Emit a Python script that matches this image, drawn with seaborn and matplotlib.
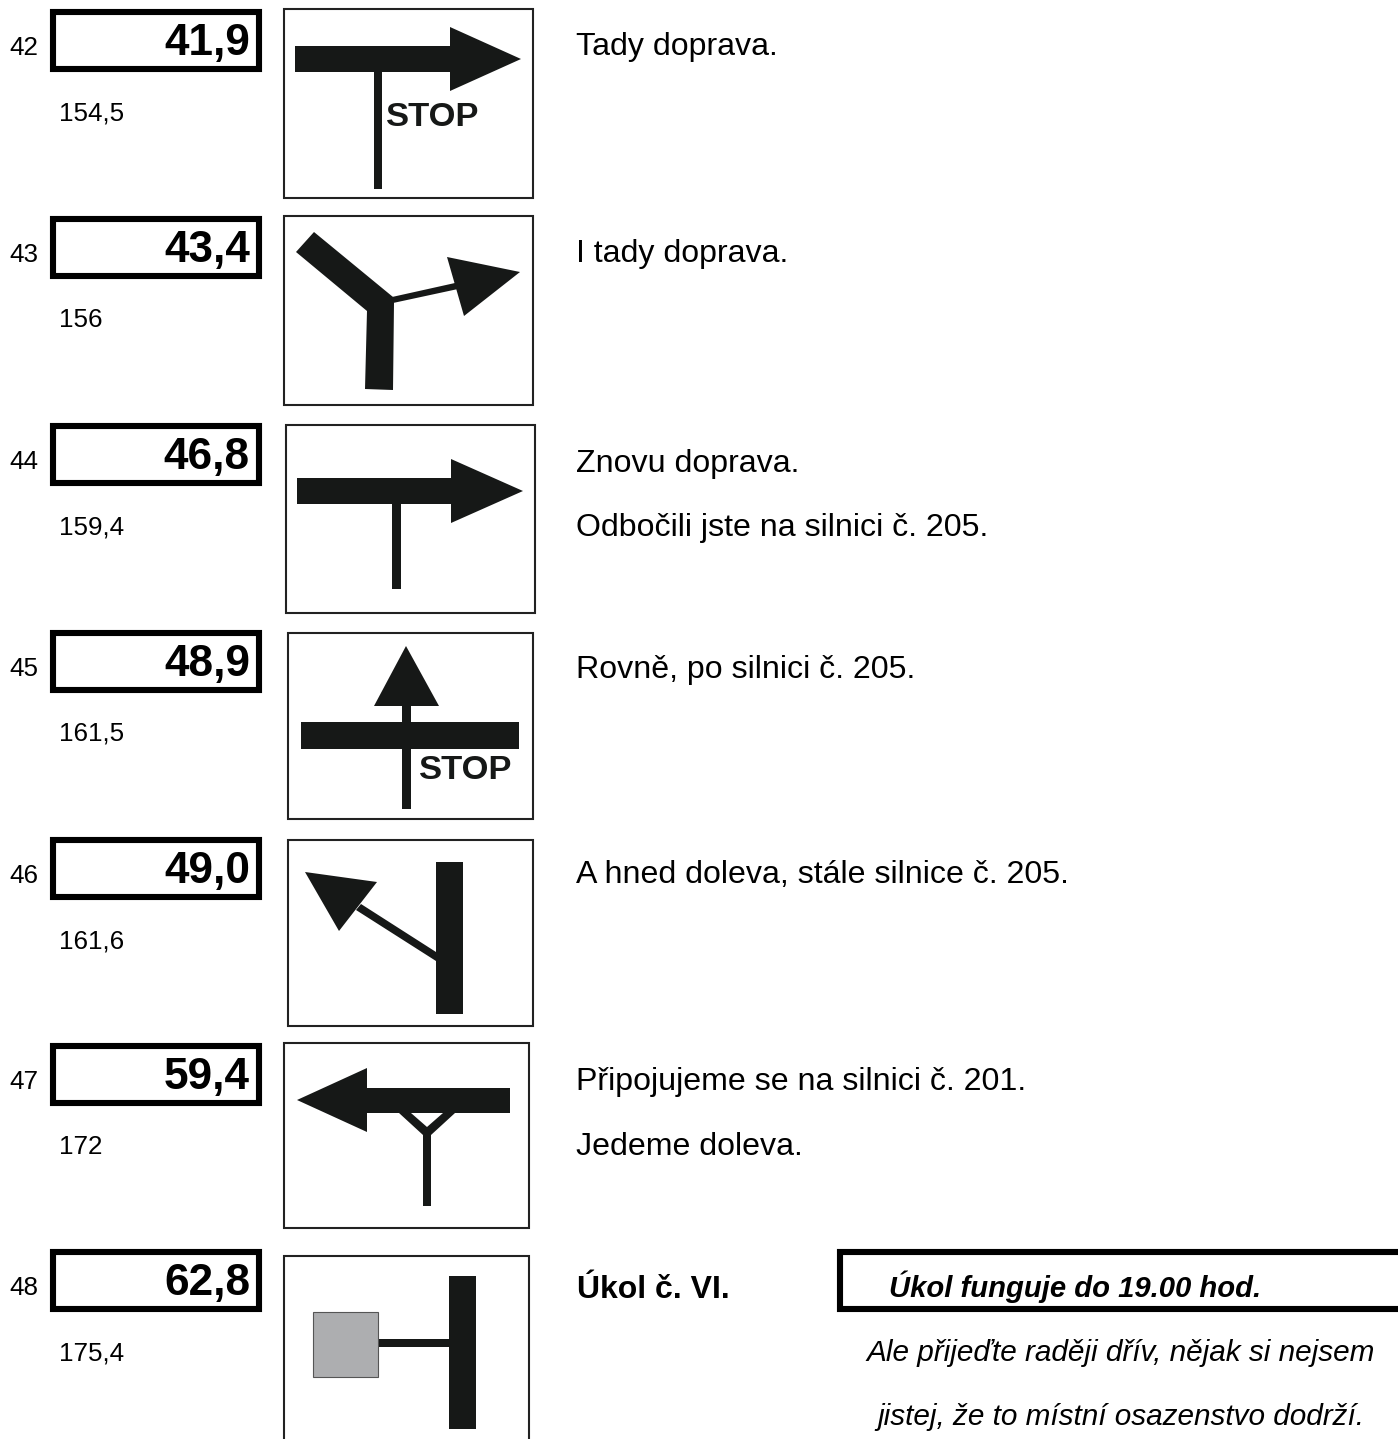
import matplotlib.pyplot as plt
import seaborn as sns
from matplotlib.patches import Polygon, Rectangle

# road book rows
stops = ["42", "43", "44", "45", "46", "47", "48"]
trip_km = ["41,9", "43,4", "46,8", "48,9", "49,0", "59,4", "62,8"]
total_km = ["154,5", "156", "159,4", "161,5", "161,6", "172", "175,4"]

notes = ["Tady doprava.", "I tady doprava.", "Znovu doprava.",
         "Odbočili jste na silnici č. 205.", "Rovně, po silnici č. 205.",
         "A hned doleva, stále silnice č. 205.",
         "Připojujeme se na silnici č. 201.", "Jedeme doleva."]
task_title = "Úkol č. VI."
task_box = "Úkol funguje do 19.00 hod."
task_notes = ["Ale přijeďte raději dřív, nějak si nejsem",
              "jistej, že to místní osazenstvo dodrží."]

# layout, in pixels of the page
box_tops = [9, 216, 423, 630, 837, 1043, 1249]
note_y = [55, 262, 472, 536, 678, 883, 1090, 1155]
sign_boxes = [(284, 9, 533, 198), (284, 216, 533, 405), (286, 425, 535, 613),
              (288, 633, 533, 819), (288, 840, 533, 1026), (284, 1043, 529, 1228),
              (284, 1256, 529, 1445)]

INK = "#161817"

sns.set_theme(style="white")
plt.rcParams["font.family"] = ["Liberation Sans", "DejaVu Sans"]

fig = plt.figure(figsize=(13.98, 14.39), dpi=100)
ax = fig.add_axes([0, 0, 1, 1])
ax.set_xlim(0, 1398)
ax.set_ylim(1439, 0)
ax.axis("off")


def shape(*pts):
    ax.add_patch(Polygon(pts, closed=True, fc=INK, ec="none"))


def rect(x0, y0, x1, y1):
    shape((x0, y0), (x1, y0), (x1, y1), (x0, y1))


def stop_word(x, y):
    ax.text(x, y, "STOP", fontsize=24.8, fontweight="bold", color=INK, ha="left", va="baseline")


# left columns
for i in range(len(stops)):
    top = box_tops[i]
    ax.add_patch(Rectangle((53, top + 3), 206, 57, fc="white", ec="black", lw=4.4, joinstyle="miter"))
    ax.text(9, top + 46, stops[i], fontsize=18.7, ha="left", va="baseline", color="black")
    ax.text(250, top + 46, trip_km[i], fontsize=31.8, fontweight="bold", ha="right", va="baseline", color="black")
    ax.text(59, top + 111, total_km[i], fontsize=18.7, ha="left", va="baseline", color="black")

# sign frames
for x0, y0, x1, y1 in sign_boxes:
    ax.add_patch(Rectangle((x0, y0), x1 - x0, y1 - y0, fc="white", ec="#222222", lw=1.5))

# 42
rect(295, 46, 450, 72)
shape((450, 27), (521, 59), (450, 91))
rect(374, 72, 382, 189)
stop_word(386, 126)

# 43
shape((296, 252), (314, 232), (393, 297), (394, 303), (393, 390), (365, 389), (367, 311))
shape((392, 297), (455, 283), (458, 289), (393, 303))
shape((447, 257), (520, 272), (464, 316))

# 44
rect(297, 478, 451, 504)
shape((451, 459), (523, 491), (451, 523))
rect(392, 504, 401, 589)

# 45
shape((406, 646), (374, 706), (439, 706))
rect(402, 706, 411, 809)
rect(301, 722, 519, 749)
stop_word(419, 779)

# 46
rect(436, 862, 463, 1014)
shape((305, 872), (377, 882), (339, 931))
shape((361, 904), (436, 952), (436, 961), (356, 910))

# 47
rect(367, 1088, 510, 1113)
shape((367, 1068), (297, 1100), (367, 1132))
shape((399, 1113), (411, 1113), (427, 1127), (443, 1113), (455, 1113), (431, 1135),
      (431, 1206), (423, 1206), (423, 1135))

# 48
rect(449, 1276, 476, 1429)
rect(378, 1339, 449, 1347)
ax.add_patch(Rectangle((313, 1312), 65, 65, fc="#adaeb0", ec="#555555", lw=0.8))

# notes on the right
for txt, y in zip(notes, note_y):
    ax.text(576, y, txt, fontsize=23.1, ha="left", va="baseline", color="black")

ax.text(577, 1298, task_title, fontsize=23, fontweight="bold", ha="left", va="baseline", color="black")
ax.add_patch(Rectangle((840, 1252), 600, 57, fc="white", ec="black", lw=4.4, joinstyle="miter"))
ax.text(889, 1297, task_box, fontsize=21.1, fontweight="bold", fontstyle="italic", ha="left", va="baseline", color="black")
ax.text(1121, 1361, task_notes[0], fontsize=21.4, fontstyle="italic", ha="center", va="baseline", color="black")
ax.text(1121, 1425, task_notes[1], fontsize=21.4, fontstyle="italic", ha="center", va="baseline", color="black")

fig.savefig("out.png", dpi=100, facecolor="white")
